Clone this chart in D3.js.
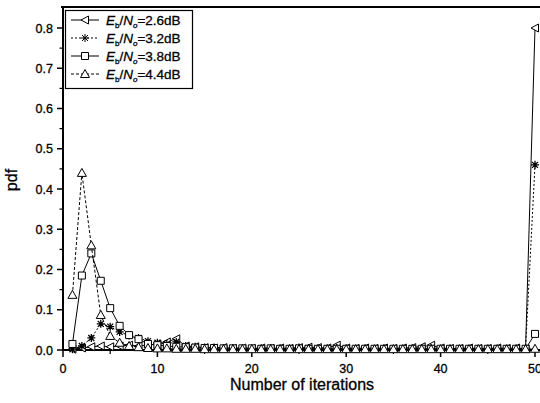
<!DOCTYPE html>
<html>
<head>
<meta charset="utf-8">
<script src="https://cdn.jsdelivr.net/npm/d3@7"></script>
<style>
  body { margin: 0; background: #fff; }
  svg { display: block; font-family: "Liberation Sans", Arial, sans-serif; }
  text { stroke: #000; stroke-width: 0.3; }
</style>
</head>
<body>
<svg id="chart" width="540" height="403"></svg>
<script>
// iterations 1..50
var iters = d3.range(1, 51);
var labels = ["2.6", "3.2", "3.8", "4.4"];
var xTicks = [0, 10, 20, 30, 40, 50];
var yTicks = [0.0, 0.1, 0.2, 0.3, 0.4, 0.5, 0.6, 0.7, 0.8];

var s26 = [0.002,0.005,0.008,0.01,0.008,0.01,0.012,0.01,0.012,0.015,0.02,0.028,0.01,0.008,0.006,0.005,0.006,0.004,0.005,0.004,
  0.005,0.004,0.005,0.004,0.006,0.007,0.006,0.005,0.012,0.005,0.004,0.005,0.004,0.005,0.004,0.005,0.006,0.008,0.012,0.005,
  0.004,0.004,0.005,0.004,0.004,0.005,0.004,0.005,0.003,0.80];
var s32 = [0.002,0.01,0.03,0.065,0.058,0.045,0.036,0.03,0.022,0.018,0.015,0.02,0.01,0.008,0.006,0.006,0.005,0.005,0.004,0.004,
  0.004,0.005,0.004,0.004,0.006,0.005,0.004,0.004,0.005,0.004,0.003,0.004,0.003,0.004,0.003,0.003,0.004,0.004,0.005,0.003,
  0.003,0.003,0.003,0.003,0.003,0.003,0.003,0.003,0.003,0.46];
var s38 = [0.015,0.185,0.24,0.172,0.104,0.06,0.037,0.027,0.015,0.012,0.01,0.008,0.007,0.006,0.005,0.005,0.004,0.004,0.004,0.004,
  0.003,0.004,0.003,0.003,0.004,0.003,0.003,0.003,0.003,0.003,0.003,0.003,0.003,0.003,0.003,0.003,0.003,0.003,0.003,0.003,
  0.003,0.003,0.003,0.003,0.003,0.003,0.003,0.003,0.003,0.04];
var s44 = [0.137,0.44,0.26,0.087,0.035,0.018,0.01,0.007,0.005,0.004,0.004,0.003,0.003,0.003,0.002,0.002,0.002,0.002,0.002,0.002,
  0.002,0.002,0.002,0.002,0.002,0.002,0.002,0.002,0.002,0.002,0.002,0.002,0.002,0.002,0.002,0.002,0.002,0.002,0.002,0.002,
  0.002,0.002,0.002,0.002,0.002,0.002,0.002,0.002,0.002,0.003];

var svg = d3.select("#chart");

var x = d3.scaleLinear().domain([0, 50]).range([63, 535]);
var y = d3.scaleLinear().domain([0, 0.8]).range([350, 28]);
var yTop = 7;

var series = [
  { name: labels[0], vals: s26, dash: null, marker: "ltri" },
  { name: labels[1], vals: s32, dash: "2,2", marker: "star" },
  { name: labels[2], vals: s38, dash: null, marker: "square" },
  { name: labels[3], vals: s44, dash: "3,2", marker: "utri" }
];

// marker shapes, centered on 0,0
function markerPath(type) {
  if (type == "ltri") return "M-4,0L3.5,-4L3.5,4Z";
  if (type == "utri") return "M0,-4.5L4.5,3.5L-4.5,3.5Z";
  if (type == "square") return "M-3.5,-3.5H3.5V3.5H-3.5Z";
  // star: asterisk
  return "M-4,0H4M0,-4V4M-3,-3L3,3M-3,3L3,-3";
}

// top frame line
svg.append("line")
  .attr("x1", 61).attr("x2", 540)
  .attr("y1", yTop).attr("y2", yTop)
  .attr("stroke", "#000").attr("stroke-width", 2);

// y axis
var yAxis = svg.append("g").attr("transform", "translate(63,0)");
yAxis.append("line").attr("x1", 0).attr("x2", 0).attr("y1", yTop).attr("y2", 351)
  .attr("stroke", "#000").attr("stroke-width", 2);
yAxis.selectAll(".maj").data(yTicks).enter().append("line")
  .attr("x1", -6).attr("x2", 0)
  .attr("y1", d => y(d)).attr("y2", d => y(d))
  .attr("stroke", "#000").attr("stroke-width", 1.5);
yAxis.selectAll(".min").data(d3.range(0.05, 0.85, 0.1)).enter().append("line")
  .attr("x1", -3.5).attr("x2", 0)
  .attr("y1", d => y(d)).attr("y2", d => y(d))
  .attr("stroke", "#000").attr("stroke-width", 1.2);
yAxis.selectAll("text").data(yTicks).enter().append("text")
  .attr("x", -10).attr("y", d => y(d) + 4.5)
  .attr("text-anchor", "end")
  .attr("font-size", 12.5)
  .text(d => d.toFixed(1));

// x axis
var xAxis = svg.append("g").attr("transform", "translate(0,350)");
xAxis.append("line").attr("x1", 62).attr("x2", 540).attr("y1", 0).attr("y2", 0)
  .attr("stroke", "#000").attr("stroke-width", 2);
xAxis.selectAll(".maj").data(xTicks).enter().append("line")
  .attr("x1", d => x(d)).attr("x2", d => x(d))
  .attr("y1", 0).attr("y2", 7)
  .attr("stroke", "#000").attr("stroke-width", 1.5);
xAxis.selectAll(".min").data([5, 15, 25, 35, 45]).enter().append("line")
  .attr("x1", d => x(d)).attr("x2", d => x(d))
  .attr("y1", 0).attr("y2", 4)
  .attr("stroke", "#000").attr("stroke-width", 1.2);
xAxis.selectAll("text").data(xTicks).enter().append("text")
  .attr("x", d => x(d)).attr("y", 23)
  .attr("text-anchor", "middle")
  .attr("font-size", 12.5)
  .text(d => d);

// axis titles
svg.append("text")
  .attr("x", 302).attr("y", 390)
  .attr("text-anchor", "middle")
  .attr("font-size", 16)
  .text("Number of iterations");
svg.append("text")
  .attr("transform", "translate(17,180) rotate(-90)")
  .attr("text-anchor", "middle")
  .attr("font-size", 16)
  .text("pdf");

// lines + markers
var line = d3.line()
  .x((d, i) => x(iters[i]))
  .y(d => y(d));

series.forEach(function(s) {
  svg.append("path")
    .attr("d", line(s.vals))
    .attr("fill", "none")
    .attr("stroke", "#000")
    .attr("stroke-width", 1)
    .attr("stroke-dasharray", s.dash);
  svg.append("g").selectAll("path").data(s.vals).enter().append("path")
    .attr("transform", (d, i) => "translate(" + x(iters[i]) + "," + y(d) + ")")
    .attr("d", markerPath(s.marker))
    .attr("fill", s.marker == "star" ? "none" : "#fff")
    .attr("stroke", "#000")
    .attr("stroke-width", s.marker == "star" ? 1.3 : 1);
});

// legend
var leg = svg.append("g");
leg.append("rect")
  .attr("x", 65.5).attr("y", 10.5).attr("width", 127).attr("height", 78)
  .attr("fill", "#fff").attr("stroke", "#000").attr("stroke-width", 1.2);

series.forEach(function(s, i) {
  var ly = 20 + i * 18;
  leg.append("line")
    .attr("x1", 71).attr("x2", 99).attr("y1", ly).attr("y2", ly)
    .attr("stroke", "#000").attr("stroke-width", 1)
    .attr("stroke-dasharray", s.dash);
  leg.append("path")
    .attr("transform", "translate(85," + ly + ")")
    .attr("d", markerPath(s.marker))
    .attr("fill", s.marker == "star" ? "none" : "#fff")
    .attr("stroke", "#000");
  var t = leg.append("text")
    .attr("x", 106).attr("y", ly + 4.5)
    .attr("font-size", 13.5);
  t.append("tspan").attr("font-style", "italic").text("E");
  t.append("tspan").attr("font-size", 8).attr("dy", 3).text("b");
  t.append("tspan").attr("dy", -3).text("/");
  t.append("tspan").attr("font-style", "italic").text("N");
  t.append("tspan").attr("font-size", 8).attr("font-style", "italic").attr("dy", 3).text("o");
  t.append("tspan").attr("dy", -3).text("=" + s.name + "dB");
});
</script>
</body>
</html>
